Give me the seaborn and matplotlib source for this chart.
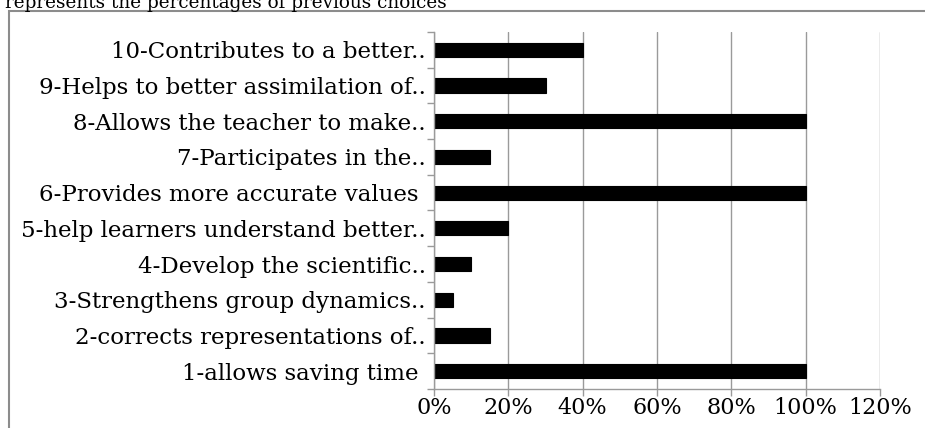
import matplotlib
matplotlib.use("Agg")
import matplotlib.pyplot as plt
import seaborn as sns
import pandas as pd
from matplotlib.ticker import PercentFormatter, FixedLocator
from matplotlib.patches import Rectangle

# Answer labels, listed top to bottom
labels = [
    "10-Contributes to a better..",
    "9-Helps to better assimilation of..",
    "8-Allows the teacher to make..",
    "7-Participates in the..",
    "6-Provides more accurate values ",
    "5-help learners understand better..",
    "4-Develop the scientific..",
    "3-Strengthens group dynamics..",
    "2-corrects representations of..",
    "1-allows saving time ",
]
# Share of respondents choosing each answer
shares = [0.40, 0.30, 1.00, 0.15, 1.00, 0.20, 0.10, 0.05, 0.15, 1.00]
x_ticks = [0.0, 0.2, 0.4, 0.6, 0.8, 1.0, 1.2]

df = pd.DataFrame({"answer": labels, "share": shares})

sns.set_theme(style="white")
plt.rcParams["font.family"] = ["DejaVu Serif", "Liberation Serif"]

W, H = 925, 428
fig = plt.figure(figsize=(W / 100, H / 100), dpi=100)
ax = fig.add_axes([434 / W, (H - 389) / H, (880 - 434) / W, (389 - 32) / H])

sns.barplot(data=df, x="share", y="answer", orient="h", color="black",
            width=0.4, edgecolor="black", linewidth=0.8, saturation=1, ax=ax)

grey = "#9a9a9a"
ax.set_xlim(0, 1.2)
ax.set_ylim(len(labels) - 0.5, -0.5)
ax.xaxis.set_major_locator(FixedLocator(x_ticks))
ax.xaxis.set_major_formatter(PercentFormatter(1.0, decimals=0))
ax.grid(axis="x", color=grey, linewidth=1)
ax.set_axisbelow(True)
ax.set_xlabel("")
ax.set_ylabel("")

for side in ("top", "right"):
    ax.spines[side].set_visible(False)
for side in ("left", "bottom"):
    ax.spines[side].set_color(grey)
    ax.spines[side].set_linewidth(1)

# y ticks sit between categories; labels are placed at the category centres
ax.set_yticks([i - 0.5 for i in range(len(labels) + 1)], minor=False)
ax.set_yticklabels([])
ax.set_yticks(range(len(labels)), minor=True)
ax.set_yticklabels(labels, minor=True)
ax.tick_params(axis="y", which="major", left=True, length=5, width=1, color=grey)
ax.tick_params(axis="y", which="minor", left=False, length=0, pad=6,
               labelsize=16.5, labelcolor="black")
ax.tick_params(axis="x", bottom=True, length=5, width=1, color=grey,
               labelsize=16, labelcolor="black", pad=1)

# outer chart border
fig.patches.append(Rectangle((9 / W, -0.05), 1.0, (H - 11) / H + 0.05,
                             transform=fig.transFigure, fill=False,
                             edgecolor="#8c8c8c", linewidth=1.5))

fig.text(5 / W, 1 - 8 / H, "represents the percentages of previous choices",
         fontsize=13.25, color="black", ha="left", va="baseline")

fig.savefig("out.png", dpi=100)
